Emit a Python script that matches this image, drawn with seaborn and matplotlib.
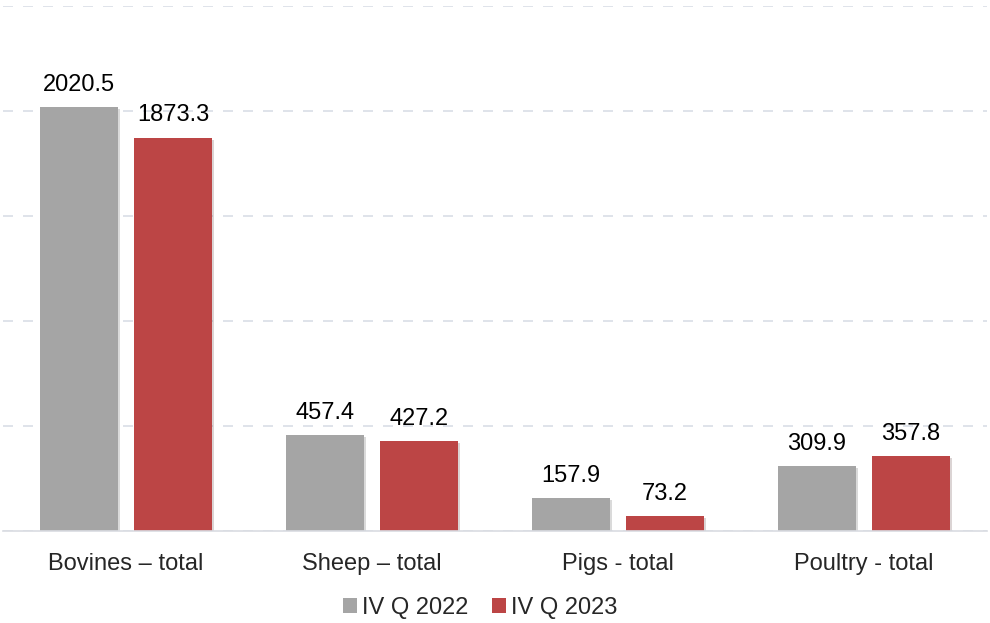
import pandas as pd
import seaborn as sns
import matplotlib.pyplot as plt
import matplotlib.patheffects as pe
from matplotlib.patches import Patch

# Dati
categorie = ["Bovines – total", "Sheep – total", "Pigs - total", "Poultry - total"]
serie = ["IV Q 2022", "IV Q 2023"]
valori_2022 = [2020.5, 457.4, 157.9, 309.9]
valori_2023 = [1873.3, 427.2, 73.2, 357.8]
colori = ["#A5A5A5", "#BC4545"]

df = pd.DataFrame({
    "categoria": categorie * 2,
    "periodo": [serie[0]] * 4 + [serie[1]] * 4,
    "valore": valori_2022 + valori_2023,
})

sns.set_style("white")
plt.rcParams['font.family'] = ['Liberation Sans', 'DejaVu Sans']

fig = plt.figure(figsize=(9.9, 6.23), dpi=100)
ax = fig.add_axes([3 / 990, 92 / 623, 984 / 990, 525 / 623])

sns.barplot(data=df, x="categoria", y="valore", hue="periodo", palette=colori,
            width=0.764, gap=0.18, saturation=1, linewidth=0, legend=False,
            ax=ax, zorder=3)

# ombra leggera sotto le barre
for p in ax.patches:
    p.set_path_effects([pe.SimplePatchShadow(offset=(1.5, -1.5), alpha=0.18), pe.Normal()])

# etichette dei valori
for cont in ax.containers:
    ax.bar_label(cont, fmt="%.1f", padding=8, fontsize=17, color="black")

ax.set_ylim(0, 2500)
ax.set_xlim(-0.5, 3.5)
ax.set_yticks([0, 500, 1000, 1500, 2000, 2500])
ax.set_yticklabels([])
ax.grid(axis="y", color="#D9DEE6", linestyle=(0, (6, 6)), linewidth=1.2, zorder=0)
ax.tick_params(axis="x", length=0, pad=16, labelsize=17)
ax.tick_params(axis="y", length=0)
ax.set_xlabel("")
ax.set_ylabel("")
for s in ["top", "left", "right"]:
    ax.spines[s].set_visible(False)
ax.spines["bottom"].set_color("#D9DCE2")
ax.spines["bottom"].set_linewidth(1.2)
ax.spines["bottom"].set_zorder(4)

handles = [Patch(facecolor=c, edgecolor="none") for c in colori]
fig.legend(handles, serie, loc="center", bbox_to_anchor=(480 / 990, 1 - 608 / 623),
           ncol=2, frameon=False, fontsize=17, handlelength=0.6, handleheight=0.6,
           handletextpad=0.2, columnspacing=1.0)

fig.savefig("out.png", dpi=100)
